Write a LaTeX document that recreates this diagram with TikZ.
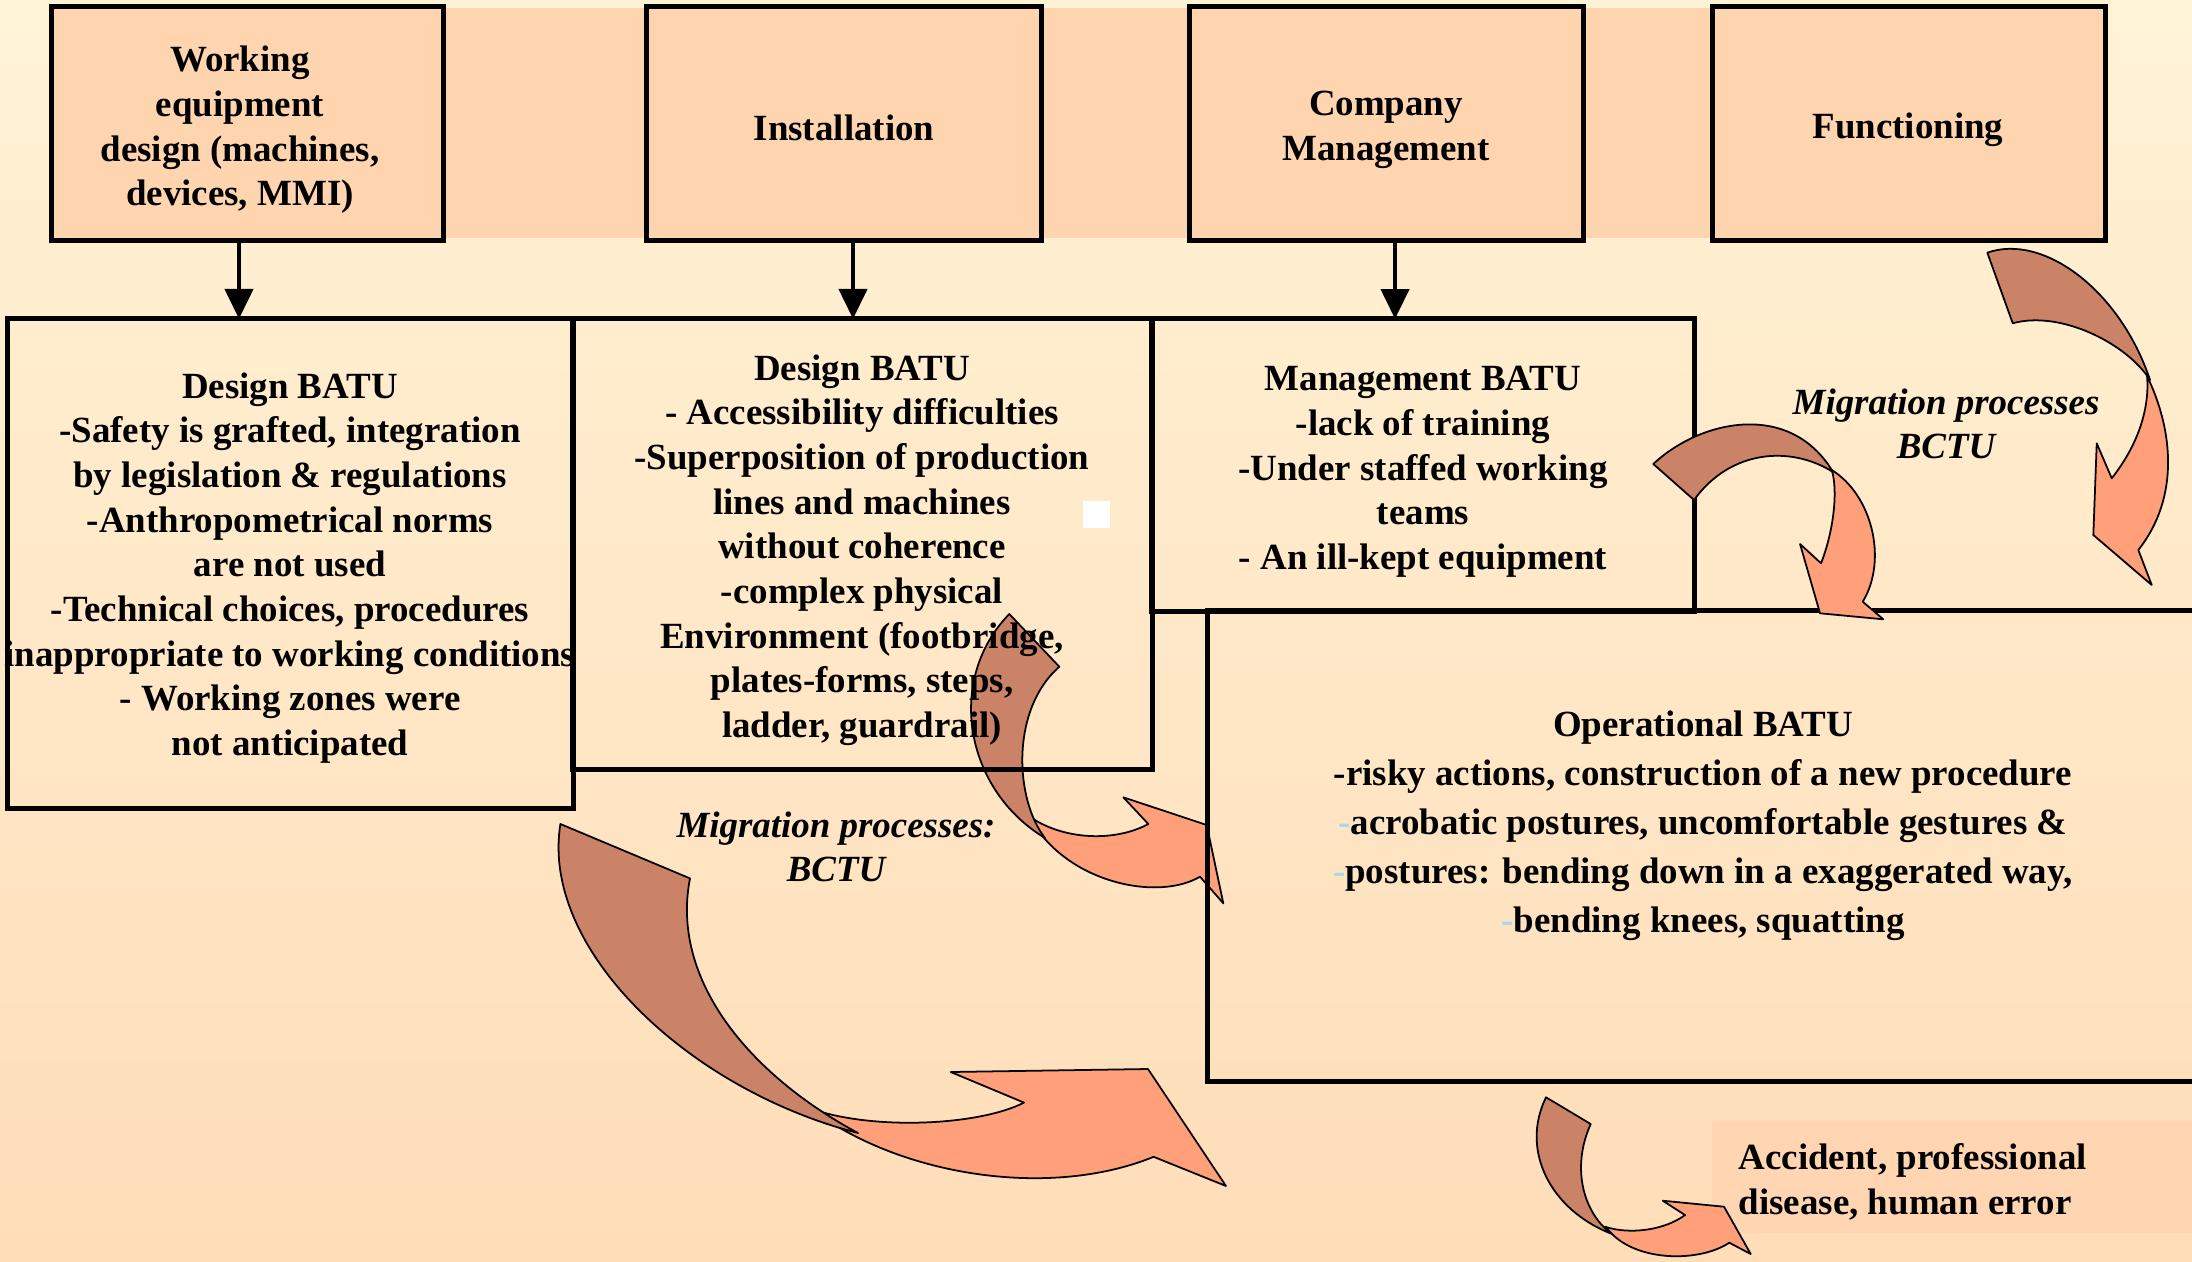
\documentclass[tikz,border=0pt]{standalone}
\usepackage{fontspec}
\setmainfont{Liberation Serif}
\usetikzlibrary{arrows.meta}
\definecolor{bgtop}{HTML}{FFF3D6}
\definecolor{bgbot}{HTML}{FFDDB9}
\definecolor{peach}{HTML}{FFD5B0}
\definecolor{accfill}{HTML}{FFD6B1}
\definecolor{arrdark}{HTML}{CB8368}
\definecolor{arrlight}{HTML}{FFA07A}
\definecolor{dashblue}{HTML}{A8D8E8}
\tikzset{
  tbox/.style={draw=black, fill=peach, line width=1.4pt, inner sep=0pt, outer sep=0pt},
  mbox/.style={draw=black, line width=1.4pt, inner sep=0pt, outer sep=0pt},
  txt/.style={align=center, font=\fontsize{10.5}{12.7}\selectfont\bfseries, inner sep=0pt},
  itxt/.style={align=center, font=\fontsize{10.5}{12.7}\selectfont\bfseries\itshape, inner sep=0pt},
  conn/.style={line width=1.1pt, -{Triangle[width=8pt,length=8.5pt]}},
  darkpart/.style={fill=arrdark, draw=black, line width=0.5pt, line join=round},
  lightpart/.style={fill=arrlight, draw=black, line width=0.5pt, line join=round},
}
\begin{document}
\begin{tikzpicture}[x=0.01cm,y=-0.01cm]
\useasboundingbox (0,0) rectangle (2192,1261);
\clip (0,0) rectangle (2192,1261);
% background
\shade[top color=bgtop, bottom color=bgbot] (0,0) rectangle (2192,1261);
\fill[peach] (52,8) rectangle (2105,238);

% curved arrow C (behind the boxes)
\path[lightpart] (1031.7,818) .. controls (1065,840) and (1115,842) .. (1148.3,824)
  -- (1123.3,797.3) -- (1206.7,825) -- (1223.3,903.3) -- (1200,876.7)
  .. controls (1160,900) and (1080,885) .. (1040,833) -- cycle;
\path[darkpart] (1009.3,614) .. controls (945,680) and (965,790) .. (1045,838)
  .. controls (1015,800) and (1010,710) .. (1059.3,666.7) -- cycle;

% top boxes
\node[tbox, minimum width=3.91cm, minimum height=2.33cm] (n1) at (247.5,123.5) {};
\node[tbox, minimum width=3.94cm, minimum height=2.33cm] (inst) at (844,123.5) {};
\node[tbox, minimum width=3.93cm, minimum height=2.33cm] (comp) at (1386.5,123.5) {};
\node[tbox, minimum width=3.92cm, minimum height=2.33cm] (func) at (1909,123.5) {};

\node[txt] (t1) at (240,130) {Working\\equipment\\design (machines,\\devices, MMI)};
\node[txt] (t2) at (844,128) {Installation};
\node[txt] (t3) at (1386,130) {Company\\Management};
\node[txt] (t4) at (1908,130) {Functioning};

% middle boxes
\node[mbox, minimum width=5.65cm, minimum height=4.89cm] (d1) at (290.5,563.5) {};
\node[mbox, minimum width=5.79cm, minimum height=4.50cm] (d2) at (862.5,544) {};
\node[mbox, minimum width=5.42cm, minimum height=2.92cm] (mg) at (1423,465) {};
\node[mbox, minimum width=10.42cm, minimum height=4.70cm] (op) at (1729,846) {};
\node[fill=accfill, minimum width=4.80cm, minimum height=1.12cm, inner sep=0pt] (acc) at (1952,1177) {};
\node[fill=white, minimum size=0.27cm, inner sep=0pt] (wsq) at (1096.5,514.5) {};

% connectors
\draw[conn] ([xshift=-0.085cm]n1.south) -- ([xshift=-0.085cm]n1.south |- d1.north);
\draw[conn] ([xshift=0.09cm]inst.south) -- ([xshift=0.09cm]inst.south |- d2.north);
\draw[conn] ([xshift=0.085cm]comp.south) -- ([xshift=0.085cm]comp.south |- mg.north);

% texts
\node[txt] (d1t) at (290,568) {Design BATU\\-Safety is grafted, integration\\by legislation \& regulations\\-Anthropometrical norms\\are not used\\-Technical choices, procedures\\inappropriate to working conditions\\- Working zones were\\not anticipated};
\node[txt] (d2t) at (862,550) {Design BATU\\- Accessibility difficulties\\-Superposition of production\\lines and machines\\without coherence\\-complex physical\\Environment (footbridge,\\plates-forms, steps,\\ladder, guardrail)};
\node[txt] (mgt) at (1423,472) {Management BATU\\-lack of training\\-Under staffed working\\teams\\- An ill-kept equipment};
\node[txt, font=\fontsize{10.5}{13.9}\selectfont\bfseries] (opt) at (1703,826) {Operational BATU\\-risky actions, construction of a new procedure\\{\color{dashblue}-}acrobatic postures, uncomfortable gestures \&\\{\color{dashblue}-}postures: bending down in a exaggerated way,\\{\color{dashblue}-}bending knees, squatting};
\node[txt, align=left, anchor=west] (acct) at (1738,1182) {Accident, professional\\disease, human error};
\node[itxt] (mig1) at (1946,424) {Migration processes\\BCTU};
\node[itxt] (mig2) at (836,847) {Migration processes:\\BCTU};

% curved arrow A
\path[lightpart] (2147,376) .. controls (2173,430) and (2180,497) .. (2138.3,550)
  -- (2151.7,585) -- (2093.3,535) -- (2096.7,443.3) -- (2111.7,478.3)
  .. controls (2136.7,446.7) and (2150,410) .. (2147,376) -- cycle;
\path[darkpart] (1987.3,252.7) .. controls (2043,233) and (2120,290) .. (2150,380)
  .. controls (2126.7,343.3) and (2060,310) .. (2012.7,323.3) -- cycle;

% curved arrow B
\path[lightpart] (1831.7,470) .. controls (1872,495) and (1888,560) .. (1862.7,601.7)
  -- (1883.3,619.3) -- (1820,613.3) -- (1800,544) -- (1821,563.3)
  .. controls (1834,530) and (1838,490) .. (1831.7,470) -- cycle;
\path[darkpart] (1653.3,464) .. controls (1700,420) and (1790,400) .. (1833,472)
  .. controls (1790,445) and (1730,450) .. (1694,500) -- cycle;

% curved arrow D
\path[lightpart] (818,1111) .. controls (880,1130) and (980,1125) .. (1024,1102.6)
  -- (950.7,1072) -- (1148,1069) -- (1226,1186) -- (1153.6,1156.8)
  .. controls (1060,1195) and (930,1180) .. (840,1128) -- cycle;
\path[darkpart] (560.4,824) .. controls (540,950) and (690,1090) .. (858,1133)
  .. controls (750,1075) and (670,980) .. (690,878.4) -- cycle;

% curved arrow E
\path[lightpart] (1605,1226.7) .. controls (1630,1235) and (1665,1230) .. (1685,1215)
  -- (1662.7,1200.7) -- (1724,1206.7) -- (1750.7,1254) -- (1729.3,1242.7)
  .. controls (1700,1262) and (1640,1262) .. (1612,1234) -- cycle;
\path[darkpart] (1546,1097.3) .. controls (1520,1150) and (1550,1210) .. (1612,1234)
  .. controls (1585,1215) and (1570,1170) .. (1590.7,1124) -- cycle;
\end{tikzpicture}
\end{document}
